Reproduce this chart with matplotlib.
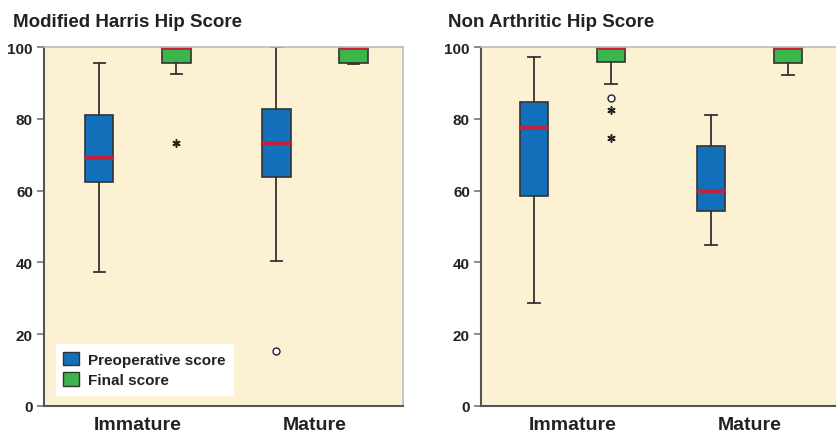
import matplotlib
matplotlib.use("Agg")
import matplotlib.pyplot as plt
from matplotlib.patches import Patch

plt.rcParams["font.family"] = ["Liberation Sans", "DejaVu Sans"]

categories = ["Immature", "Mature"]
series = ["Preoperative score", "Final score"]

# box statistics: [whislo, q1, med, q3, whishi]
harris_pre = [[37.3, 62.5, 69.0, 81.0, 95.5], [40.4, 63.7, 73.3, 82.8, 100.0]]
harris_fin = [[92.5, 95.5, 99.6, 100.0, 100.0], [95.3, 95.5, 99.6, 100.0, 100.0]]
nahs_pre = [[28.7, 58.6, 77.3, 84.8, 97.3], [44.8, 54.3, 59.8, 72.4, 81.0]]
nahs_fin = [[89.8, 95.7, 99.6, 100.0, 100.0], [92.3, 95.5, 99.6, 100.0, 100.0]]

# outliers: (category index, series index, value)
harris_circles = [(1, 0, 15.3)]
harris_stars = [(0, 1, 73.2)]
nahs_circles = [(0, 1, 85.9)]
nahs_stars = [(0, 1, 82.5), (0, 1, 74.7)]

yticks = [0, 20, 40, 60, 80, 100]

colors = ["#1170b9", "#3cb54a"]
bg = "#fdf1d3"
offset = 0.218
bw = 0.16


def draw_panel(ax, pre, fin, circles, stars, xlim):
    stats = []
    pos = []
    cols = []
    for i in range(len(categories)):
        for j, data in enumerate([pre, fin]):
            lo, q1, med, q3, hi = data[i]
            stats.append(dict(whislo=lo, q1=q1, med=med, q3=q3, whishi=hi))
            pos.append(i + (offset if j else -offset))
            cols.append(colors[j])
    bp = ax.bxp(stats, positions=pos, widths=bw, patch_artist=True,
                showfliers=False, capwidths=0.065,
                boxprops=dict(edgecolor="#333333", linewidth=1.2),
                medianprops=dict(color="#c8203a", linewidth=2.8, solid_capstyle="butt"),
                whiskerprops=dict(color="#333333", linewidth=1.3),
                capprops=dict(color="#333333", linewidth=1.3))
    for b, c in zip(bp["boxes"], cols):
        b.set_facecolor(c)
    for i, j, v in circles:
        ax.plot(i + (offset if j else -offset), v, "o", mfc="white", mec="#222222",
                ms=5, mew=1.0, zorder=5)
    for i, j, v in stars:
        ax.plot(i + (offset if j else -offset), v, marker=(6, 2, 0), color="#222222",
                ms=6, mew=1.1, zorder=5)
    ax.set_facecolor(bg)
    ax.set_xlim(*xlim)
    ax.set_ylim(0, 100)
    ax.set_yticks(yticks)
    ax.set_xticks(range(len(categories)))
    ax.set_xticklabels(categories, fontsize=14)
    ax.tick_params(axis="x", length=0, pad=7, colors="#222222")
    ax.tick_params(axis="y", length=5, width=1.2, color="#777777", pad=3,
                   labelsize=11, labelcolor="#222222")
    for s in ["left", "bottom"]:
        ax.spines[s].set_color("#555555")
        ax.spines[s].set_linewidth(1.5)
    for s in ["top", "right"]:
        ax.spines[s].set_color("#bbbbbb")
        ax.spines[s].set_linewidth(1.2)
    for lab in ax.get_xticklabels() + ax.get_yticklabels():
        lab.set_fontweight("bold")


fig = plt.figure(figsize=(8.37, 4.35), dpi=100)
bot = 28 / 435
h = (407 - 48) / 435
ax1 = fig.add_axes([44 / 837, bot, 359 / 837, h])
ax2 = fig.add_axes([481 / 837, bot, 356 / 837, h])

draw_panel(ax1, harris_pre, harris_fin, harris_circles, harris_stars, (-0.53, 1.497))
draw_panel(ax2, nahs_pre, nahs_fin, nahs_circles, nahs_stars, (-0.517, 1.494))
ax2.spines["right"].set_visible(False)

fig.text(13 / 837, 1 - 27 / 435, "Modified Harris Hip Score", fontsize=13.5,
         fontweight="bold", color="#222222", va="baseline")
fig.text(448 / 837, 1 - 27 / 435, "Non Arthritic Hip Score", fontsize=13.5,
         fontweight="bold", color="#222222", va="baseline")

handles = [Patch(facecolor=c, edgecolor="#333333", linewidth=1.0) for c in colors]
leg = ax1.legend(handles, series, loc="lower left", bbox_to_anchor=(0.033, 0.031),
                 borderaxespad=0, frameon=True, fancybox=False, framealpha=1,
                 edgecolor="white", prop=dict(size=11, weight="bold"),
                 handlelength=1.0, handleheight=1.0, handletextpad=0.6,
                 labelspacing=0.35, borderpad=0.5)
for t in leg.get_texts():
    t.set_color("#222222")

fig.savefig("out.png", dpi=100, facecolor="white")
